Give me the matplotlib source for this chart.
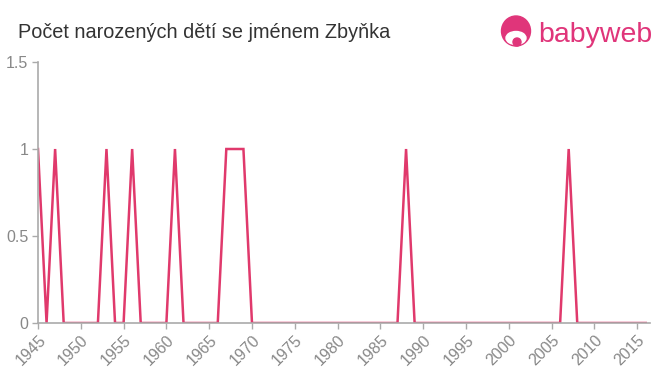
import matplotlib
matplotlib.use('Agg')
import matplotlib.pyplot as plt
from matplotlib.patches import Ellipse

plt.rcParams['font.family'] = ['Liberation Sans', 'DejaVu Sans']

# počet narozených podle roku
years = list(range(1945, 2017))
births_on = [1945, 1947, 1953, 1956, 1961, 1967, 1968, 1969, 1988, 2007]
counts = [1 if y in births_on else 0 for y in years]

x_ticks = list(range(1945, 2016, 5))
y_ticks = [0, 0.5, 1, 1.5]
y_labels = ['0', '0.5', '1', '1.5']

line_color = '#e0396c'
grey = '#aaaaaa'
text_grey = '#888888'

fig = plt.figure(figsize=(6.6, 3.75), dpi=100)
ax = fig.add_axes([38 / 660, 1 - 323 / 375, 612 / 660, 261 / 375])

ax.plot(years, counts, color=line_color, linewidth=1.8, solid_joinstyle='miter')

ax.set_xlim(1945, 2016.5)
ax.set_ylim(0, 1.5)
ax.set_xticks(x_ticks)
ax.set_xticklabels([str(x) for x in x_ticks], rotation=45, ha='right',
                   rotation_mode='anchor', fontsize=11.5, color=text_grey)
ax.set_yticks(y_ticks)
ax.set_yticklabels(y_labels, fontsize=11.5, color=text_grey)
ax.tick_params(axis='both', color=grey, length=4, width=1)
ax.tick_params(axis='x', pad=3)
ax.tick_params(axis='y', pad=3)

for side in ['top', 'right']:
    ax.spines[side].set_visible(False)
for side in ['left', 'bottom']:
    ax.spines[side].set_color(grey)
    ax.spines[side].set_linewidth(1.2)

fig.text(18 / 660, 1 - 32 / 375, 'Počet narozených dětí se jménem Zbyňka',
         fontsize=14.3, color='#333333', va='center', ha='left')

# logo babyweb
logo = '#e0357a'


def fig_ellipse(cx, cy, w, h, color):
    e = Ellipse((cx / 660, 1 - cy / 375), w / 660, h / 375,
                transform=fig.transFigure, color=color)
    fig.patches.append(e)


fig_ellipse(516, 31, 29, 30, logo)
fig_ellipse(516, 38, 20, 13, 'white')
fig_ellipse(517, 42, 8, 8, logo)
fig.text(538 / 660, 1 - 35 / 375, 'babyweb', fontsize=20.5, color=logo,
         va='center', ha='left')

fig.savefig('out.png', dpi=100)
